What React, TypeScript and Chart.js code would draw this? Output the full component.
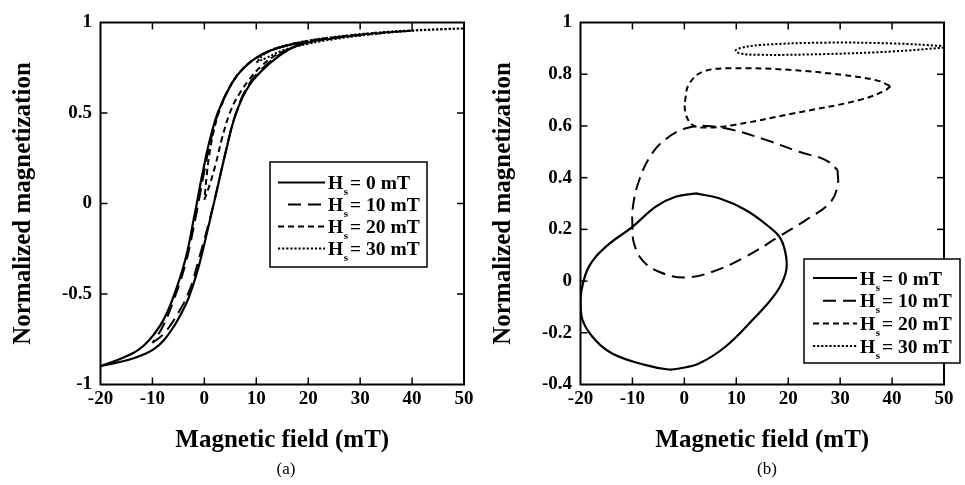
import React, { useEffect, useRef } from 'react';
import { Chart, registerables } from 'chart.js';

Chart.register(...registerables);

const FAMILY = "'Liberation Serif', 'Times New Roman', serif";

// ---------- Panel (a): normalized magnetization vs field ----------
const A_HS0_X = [-20, -16.5, -13.6, -11.5, -9.74, -7.8, -5.9, -4.5, -3, -1.2, 0.6, 2.3, 4, 6, 8.7, 12.5, 16.5, 20, 15.3, 12.5, 10.1, 7.6, 5.3, 2.7, 1, -0.4, -1.8, -3.7, -6.2, -8, -9.9, -11.7, -13.6, -16.5, -20];
const A_HS0_Y = [-0.899, -0.877, -0.855, -0.832, -0.805, -0.755, -0.68, -0.61, -0.52, -0.36, -0.15, 0.06, 0.27, 0.49, 0.655, 0.772, 0.855, 0.893, 0.868, 0.842, 0.807, 0.75, 0.665, 0.51, 0.345, 0.16, -0.05, -0.314, -0.535, -0.65, -0.73, -0.786, -0.825, -0.862, -0.899];

const A_HS10_X = [-10, -8, -5.9, -3, -1, 1.1, 2.7, 4.3, 6.1, 8.6, 12.3, 16.5, 20, 25, 30, 25, 20, 15.3, 12.5, 10.1, 7.6, 5.3, 2.8, 1.2, -0.2, -1.6, -3.6, -6.1, -8.1, -10];
const A_HS10_Y = [-0.77, -0.725, -0.645, -0.49, -0.3, -0.08, 0.11, 0.31, 0.5, 0.66, 0.775, 0.858, 0.892, 0.915, 0.932, 0.918, 0.897, 0.869, 0.843, 0.806, 0.748, 0.664, 0.51, 0.345, 0.15, -0.065, -0.33, -0.55, -0.685, -0.77];

const A_HS20_X = [0, 1.1, 2.2, 3.4, 4.9, 6.6, 8.8, 11, 13.5, 16.5, 20, 25, 30, 35, 40, 35, 30, 25, 20, 15.3, 10.1, 7.6, 5.3, 3, 1.8, 1, 0.5, 0.2, 0];
const A_HS20_Y = [0.02, 0.11, 0.22, 0.36, 0.5, 0.6, 0.69, 0.76, 0.815, 0.855, 0.888, 0.913, 0.93, 0.944, 0.955, 0.946, 0.934, 0.918, 0.898, 0.87, 0.806, 0.75, 0.665, 0.52, 0.4, 0.28, 0.17, 0.08, 0.02];

const A_HS30_X = [10, 12, 15, 20, 25, 30, 35, 40, 45, 50, 45, 40, 35, 30, 25, 20, 15, 12, 10];
const A_HS30_Y = [0.78, 0.805, 0.845, 0.883, 0.908, 0.928, 0.943, 0.954, 0.961, 0.967, 0.963, 0.957, 0.948, 0.936, 0.92, 0.9, 0.868, 0.835, 0.78];

// ---------- Panel (b) ----------
const B_HS0_X = [2.2, 6.7, 11.8, 16.3, 18.5, 19.6, 19.5, 17.6, 13.1, 7.9, 2.8, -1, -3, -7.4, -13.9, -17.7, -19.6, -20, -19.8, -18.4, -15.1, -10, -5.5, -1.7, 2.2];
const B_HS0_Y = [0.339, 0.32, 0.275, 0.21, 0.165, 0.094, 0.03, -0.048, -0.151, -0.254, -0.319, -0.338, -0.342, -0.325, -0.28, -0.215, -0.151, -0.086, -0.035, 0.055, 0.133, 0.21, 0.288, 0.326, 0.339];

const B_HS10_X = [29.5, 29.5, 27.9, 23.4, 18.2, 11.8, 5.4, 0, -4.9, -8.1, -9.7, -10, -9.9, -8.7, -6.2, -2.9, 0.3, 4.1, 9.2, 15.7, 22.1, 27.2, 29.5];
const B_HS10_Y = [0.43, 0.365, 0.3, 0.236, 0.172, 0.094, 0.036, 0.014, 0.036, 0.081, 0.146, 0.21, 0.288, 0.39, 0.494, 0.559, 0.591, 0.6, 0.585, 0.546, 0.5, 0.468, 0.43];

const B_HS20_X = [39.7, 38.5, 33.7, 20.9, 9.3, 4.2, 1.65, 0.25, 0.25, 1, 3.6, 9.3, 20.9, 30.5, 36.9, 39.7];
const B_HS20_Y = [0.754, 0.735, 0.7, 0.648, 0.603, 0.594, 0.603, 0.648, 0.713, 0.765, 0.81, 0.823, 0.816, 0.797, 0.777, 0.754];

const B_HS30_X = [50, 40.1, 27.3, 14.5, 10.6, 9.9, 11, 14.5, 27.3, 40.1, 50];
const B_HS30_Y = [0.903, 0.888, 0.878, 0.875, 0.881, 0.892, 0.902, 0.913, 0.922, 0.919, 0.909];

// ---------- Labels / ticks ----------
const HS_LABELS = ['0 mT', '10 mT', '20 mT', '30 mT'];
const X_TITLE = 'Magnetic field (mT)';
const Y_TITLE = 'Normalized magnetization';
const X_RANGE = [-20, 50, 10];
const A_Y_RANGE = [-1, 1, 0.5];
const B_Y_RANGE = [-0.4, 1, 0.2];
const CAPTIONS = ['(a)', '(b)'];

// ---------- styles ----------
const DASHES: number[][] = [[], [13, 7], [6, 4], [2.2, 1.9]];
const WIDTHS = [2.2, 2, 2, 2];
const LEGEND_INSETS = [0, 10, 0, 0];

const toPts = (xs: number[], ys: number[]) => xs.map((x, i) => ({ x, y: ys[i] }));

function makeDatasets(series: [number[], number[]][]) {
  return series.map(([xs, ys], i) => ({
    label: 'Hs = ' + HS_LABELS[i],
    data: toPts(xs, ys),
    showLine: true,
    borderColor: '#000',
    backgroundColor: '#000',
    borderWidth: WIDTHS[i],
    borderDash: DASHES[i],
    pointRadius: 0,
    fill: false,
    tension: 0.4,
  }));
}

const framePlugin = {
  id: 'hsFrame',
  afterDatasetsDraw(chart: any, _args: any, opts: any) {
    const { ctx, chartArea: a, scales } = chart;
    ctx.save();
    ctx.strokeStyle = '#000';
    const line = (x1: number, y1: number, x2: number, y2: number) => {
      ctx.beginPath();
      ctx.moveTo(x1, y1);
      ctx.lineTo(x2, y2);
      ctx.stroke();
    };
    const tl = 7;
    ctx.lineWidth = 1.5;
    ctx.setLineDash([]);
    scales.x.ticks.forEach((t: any) => {
      const px = scales.x.getPixelForValue(t.value);
      if (px <= a.left + 1 || px >= a.right - 1) return;
      line(px, a.bottom, px, a.bottom - tl);
      line(px, a.top, px, a.top + tl);
    });
    scales.y.ticks.forEach((t: any) => {
      const py = scales.y.getPixelForValue(t.value);
      if (py <= a.top + 1 || py >= a.bottom - 1) return;
      line(a.left, py, a.left + tl, py);
      line(a.right, py, a.right - tl, py);
    });
    ctx.lineWidth = 2;
    ctx.strokeRect(a.left, a.top, a.right - a.left, a.bottom - a.top);

    // legend
    const lg = opts.legend;
    if (lg) {
      ctx.fillStyle = '#fff';
      ctx.fillRect(lg.x, lg.y, lg.w, lg.h);
      ctx.lineWidth = 1.5;
      ctx.strokeRect(lg.x, lg.y, lg.w, lg.h);
      chart.data.datasets.forEach((ds: any, i: number) => {
        const y = lg.rowY + i * lg.rowStep;
        ctx.setLineDash(ds.borderDash || []);
        ctx.lineWidth = ds.borderWidth;
        line(lg.sampleX + LEGEND_INSETS[i], y, lg.sampleX + lg.sampleLen, y);
        ctx.setLineDash([]);
        ctx.fillStyle = '#000';
        ctx.textBaseline = 'alphabetic';
        ctx.textAlign = 'left';
        ctx.font = `bold 19.5px ${FAMILY}`;
        const base = y + 6.5;
        ctx.fillText('H', lg.textX, base);
        const hw = ctx.measureText('H').width;
        ctx.fillText(' = ' + HS_LABELS[i], lg.textX + hw + 2, base);
        ctx.font = `bold 11px ${FAMILY}`;
        ctx.fillText('s', lg.textX + hw + 0.5, base + 6);
      });
    }
    ctx.restore();
  },
};

function fmt(v: number) {
  const r = Math.round(v * 100) / 100;
  return String(r === 0 ? 0 : r);
}

function makeConfig(datasets: any[], yRange: number[], rightPad: number, legend: any) {
  return {
    type: 'scatter' as const,
    data: { datasets },
    plugins: [framePlugin],
    options: {
      responsive: false,
      animation: false as const,
      devicePixelRatio: 1,
      layout: { padding: { left: 0, top: 22.5, right: rightPad, bottom: 0 } },
      plugins: {
        legend: { display: false },
        tooltip: { enabled: false },
        hsFrame: { legend },
      },
      scales: {
        x: {
          type: 'linear' as const,
          min: X_RANGE[0],
          max: X_RANGE[1],
          ticks: {
            stepSize: X_RANGE[2],
            color: '#000',
            padding: 3,
            maxRotation: 0,
            font: { family: FAMILY, size: 19, weight: 'bold' as const },
            callback: (v: any) => fmt(Number(v)),
          },
          grid: { display: false, drawTicks: false },
          border: { display: false },
          title: {
            display: true,
            text: X_TITLE,
            color: '#000',
            font: { family: FAMILY, size: 25, weight: 'bold' as const },
            padding: { top: 0, bottom: 29 },
          },
          afterFit: (s: any) => {
            s.height = 100.5;
          },
        },
        y: {
          type: 'linear' as const,
          min: yRange[0],
          max: yRange[1],
          ticks: {
            stepSize: yRange[2],
            color: '#000',
            padding: 8.5,
            font: { family: FAMILY, size: 19, weight: 'bold' as const },
            callback: (v: any) => fmt(Number(v)),
          },
          grid: { display: false, drawTicks: false },
          border: { display: false },
          title: {
            display: true,
            text: Y_TITLE,
            color: '#000',
            font: { family: FAMILY, size: 25, weight: 'bold' as const },
            padding: { top: 8.5, bottom: 0 },
          },
          afterFit: (s: any) => {
            s.width = 100.5;
          },
        },
      },
    },
  };
}

function Panel(props: { left: number; width: number; config: any }) {
  const ref = useRef<HTMLCanvasElement>(null);
  useEffect(() => {
    if (!ref.current) return;
    const chart = new Chart(ref.current, props.config);
    return () => chart.destroy();
  }, []);
  return (
    <canvas
      ref={ref}
      width={props.width}
      height={485}
      style={{ position: 'absolute', left: props.left, top: 0, width: props.width, height: 485 }}
    />
  );
}

export default function App() {
  const dsA = makeDatasets([
    [A_HS0_X, A_HS0_Y],
    [A_HS10_X, A_HS10_Y],
    [A_HS20_X, A_HS20_Y],
    [A_HS30_X, A_HS30_Y],
  ]);
  const dsB = makeDatasets([
    [B_HS0_X, B_HS0_Y],
    [B_HS10_X, B_HS10_Y],
    [B_HS20_X, B_HS20_Y],
    [B_HS30_X, B_HS30_Y],
  ]);
  const cfgA = makeConfig(dsA, A_Y_RANGE, 16, {
    x: 270, y: 162, w: 157, h: 105, rowY: 182.5, rowStep: 22, sampleX: 278, sampleLen: 47, textX: 328,
  });
  const cfgB = makeConfig(dsB, B_Y_RANGE, 21, {
    x: 324, y: 259, w: 156, h: 104, rowY: 278, rowStep: 22.7, sampleX: 333, sampleLen: 44, textX: 380,
  });
  const capStyle = (cx: number): React.CSSProperties => ({
    position: 'absolute',
    left: cx - 40,
    width: 80,
    top: 459,
    height: 20,
    lineHeight: '20px',
    textAlign: 'center',
    fontFamily: FAMILY,
    fontSize: 17,
    color: '#000',
  });
  return (
    <div style={{ position: 'fixed', left: 0, top: 0, width: 965, height: 485, background: '#fff', overflow: 'hidden' }}>
      <Panel left={0} width={480} config={cfgA} />
      <Panel left={480} width={485} config={cfgB} />
      <div style={capStyle(286)}>{CAPTIONS[0]}</div>
      <div style={capStyle(767)}>{CAPTIONS[1]}</div>
    </div>
  );
}
